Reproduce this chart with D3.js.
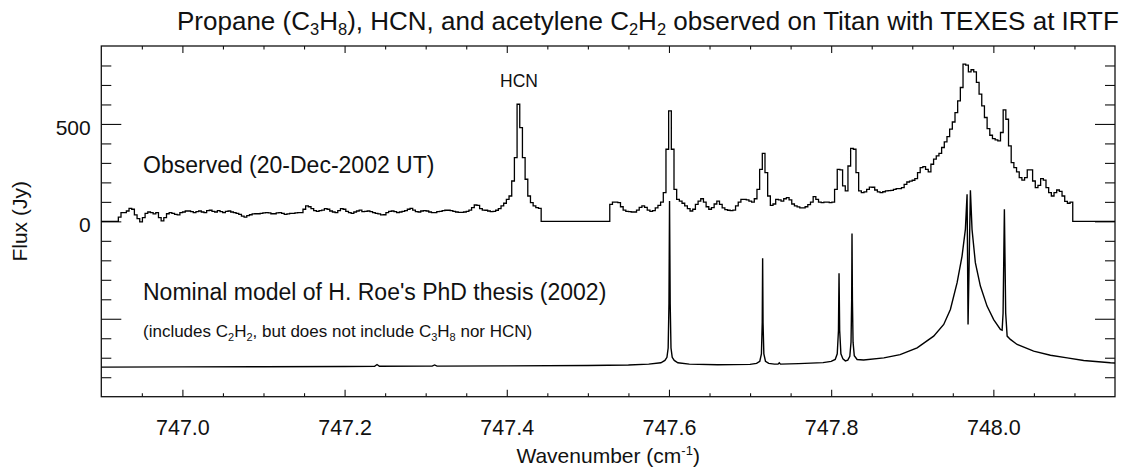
<!DOCTYPE html>
<html>
<head>
<meta charset="utf-8">
<title>Titan TEXES spectrum</title>
<script src="https://cdn.jsdelivr.net/npm/d3@7"></script>
<style>
  body { margin: 0; background: #fff; }
  svg text { font-family: "Liberation Sans", Arial, Helvetica, sans-serif; fill: #111; }
</style>
</head>
<body>
<svg id="chart" width="1138" height="476"></svg>
<script>
// observed spectrum: two binned segments (flux in Jy), zero outside
var obsStart1 = 746.921;
var obsStart2 = 747.527;
var obsStep = 0.0033;
var obsFlux1 = [22, 45, 45, 53, 67, 62, 33, 14, -3, 19, 41, 48, 45, 38, 45, 19, 2, 19, 39, 45,
  41, 36, 33, 45, 48, 53, 53, 50, 45, 50, 53, 48, 45, 55, 57, 51, 48, 55, 50, 45,
  51, 53, 48, 45, 41, 36, 27, 22, 29, 34, 38, 39, 39, 41, 43, 45, 43, 39, 39, 43,
  45, 41, 36, 38, 41, 41, 43, 45, 45, 62, 79, 75, 65, 55, 51, 55, 58, 65, 62, 53,
  48, 45, 55, 65, 62, 51, 45, 41, 48, 53, 58, 50, 51, 53, 50, 45, 41, 38, 33, 34,
  45, 51, 53, 50, 45, 48, 51, 55, 62, 67, 58, 50, 48, 53, 55, 53, 48, 45, 45, 50,
  51, 55, 57, 57, 55, 51, 48, 46, 46, 48, 51, 58, 70, 84, 82, 65, 58, 57, 53, 50,
  51, 57, 65, 79, 93, 113, 130, 207, 327, 601, 481, 327, 216, 130, 96, 79, 70, 67];
var obsFlux2 = [87, 99, 99, 96, 75, 58, 51, 50, 48, 48, 58, 72, 79, 72, 58, 51, 55, 69, 82, 99,
  147, 370, 567, 370, 164, 113, 104, 93, 79, 65, 53, 62, 87, 104, 116, 99, 75, 62, 70, 89,
  104, 87, 69, 60, 57, 55, 58, 79, 99, 113, 113, 110, 104, 99, 116, 164, 267, 349, 250, 130,
  82, 89, 113, 110, 104, 116, 122, 110, 89, 79, 74, 69, 69, 75, 86, 99, 127, 113, 99, 96,
  99, 99, 96, 99, 164, 267, 264, 182, 156, 284, 375, 370, 250, 156, 147, 151, 164, 176, 175, 161,
  151, 147, 152, 156, 158, 159, 164, 168, 168, 173, 190, 202, 206, 211, 219, 250, 276, 281, 267, 254,
  293, 319, 336, 349, 379, 408, 435, 473, 510, 558, 618, 687, 807, 802, 767, 778, 767, 713, 653, 593,
  533, 476, 442, 425, 418, 413, 456, 572, 524, 387, 301, 276, 254, 224, 212, 224, 264, 264, 207, 173,
  185, 219, 212, 173, 147, 130, 147, 161, 154, 130, 103, 93, 99];

// model spectrum (offset, plotted in the same flux units)
var modelWn = [746.900, 747.000, 747.100, 747.200, 747.237, 747.240, 747.243, 747.300, 747.308, 747.311,
  747.314, 747.400, 747.500, 747.550, 747.575, 747.590, 747.595, 747.5975, 747.599, 747.600,
  747.6007, 747.6015, 747.6025, 747.604, 747.6065, 747.611, 747.625, 747.660, 747.700, 747.708,
  747.712, 747.714, 747.715, 747.7155, 747.716, 747.717, 747.719, 747.723, 747.730, 747.7345,
  747.736, 747.7375, 747.760, 747.790, 747.800, 747.805, 747.8075, 747.809, 747.8097, 747.8105,
  747.812, 747.8145, 747.8175, 747.8205, 747.823, 747.8245, 747.8253, 747.8257, 747.8262, 747.827,
  747.8285, 747.832, 747.840, 747.865, 747.885, 747.906, 747.9264, 747.9388, 747.947, 747.9553,
  747.9614, 747.9655, 747.9676, 747.9688, 747.9717, 747.9737, 747.9778, 747.984, 747.9922, 748.0004,
  748.0087, 748.0108, 748.012, 748.0136, 748.0152, 748.017, 748.021, 748.0293, 748.0497, 748.0704,
  748.091, 748.1114, 748.1444, 748.150];
var modelFlux = [-748, -747, -746, -745, -744, -735, -744, -743, -743, -737,
  -743, -742, -740, -737, -733, -726, -714, -698, -650, -420,
  104, -420, -650, -698, -714, -726, -733, -736, -734, -729,
  -718, -680, -520, -190, -520, -680, -718, -729, -733, -733,
  -726, -733, -730, -725, -719, -709, -680, -560, -267, -560,
  -680, -706, -716, -712, -693, -620, -400, -63, -400, -620,
  -690, -709, -712, -701, -684, -649, -589, -529, -452, -315,
  -178, -41, 139, -529, 159, -41, -212, -332, -435, -504,
  -555, -559, -470, 62, -470, -589, -606, -632, -666, -687,
  -701, -714, -726, -727];

// axes
var xDomain = [746.9, 748.15];
var yDomain = [-900, 900];
var xMajor = [747.0, 747.2, 747.4, 747.6, 747.8, 748.0];
var xTickLabels = ["747.0", "747.2", "747.4", "747.6", "747.8", "748.0"];
var xMinor = [746.95, 747.05, 747.1, 747.15, 747.25, 747.3, 747.35, 747.45, 747.5, 747.55,
  747.65, 747.7, 747.75, 747.85, 747.9, 747.95, 748.05, 748.1];
var yMajor = [-500, 0, 500];
var yTickLabels = ["", "0", "500"];
var yMinor = [-800, -700, -600, -400, -300, -200, -100, 100, 200, 300, 400, 600, 700, 800];

var L = 101.3, R = 1115, T = 46, B = 396.7;
var svg = d3.select("#chart");
var x = d3.scaleLinear().domain(xDomain).range([L, R]);
var y = d3.scaleLinear().domain(yDomain).range([B, T]);

function styleAxis(g) {
  g.select(".domain").remove();
  g.selectAll(".tick line").attr("stroke", "#111").attr("stroke-width", 1.1);
}

// bottom + top
svg.append("g").attr("transform", "translate(0," + B + ")")
  .call(d3.axisBottom(x).tickValues(xMajor).tickSizeInner(-7).tickSizeOuter(0).tickPadding(23)
    .tickFormat(function(d, i) { return xTickLabels[i]; }))
  .call(styleAxis)
  .selectAll("text").attr("font-size", "21.5px");
svg.append("g").attr("transform", "translate(0," + B + ")")
  .call(d3.axisBottom(x).tickValues(xMinor).tickSizeInner(-3.5).tickSizeOuter(0).tickFormat(""))
  .call(styleAxis);
svg.append("g").attr("transform", "translate(0," + T + ")")
  .call(d3.axisTop(x).tickValues(xMajor).tickSizeInner(-7).tickSizeOuter(0).tickFormat(""))
  .call(styleAxis);
svg.append("g").attr("transform", "translate(0," + T + ")")
  .call(d3.axisTop(x).tickValues(xMinor).tickSizeInner(-3.5).tickSizeOuter(0).tickFormat(""))
  .call(styleAxis);

// left + right
svg.append("g").attr("transform", "translate(" + L + ",0)")
  .call(d3.axisLeft(y).tickValues(yMajor).tickSizeInner(-20).tickSizeOuter(0).tickPadding(10.6)
    .tickFormat(function(d, i) { return yTickLabels[i]; }))
  .call(styleAxis)
  .selectAll("text").attr("font-size", "21px").attr("dy", "0.5em");
svg.append("g").attr("transform", "translate(" + L + ",0)")
  .call(d3.axisLeft(y).tickValues(yMinor).tickSizeInner(-10).tickSizeOuter(0).tickFormat(""))
  .call(styleAxis);
svg.append("g").attr("transform", "translate(" + R + ",0)")
  .call(d3.axisRight(y).tickValues(yMajor).tickSizeInner(-20).tickSizeOuter(0).tickFormat(""))
  .call(styleAxis);
svg.append("g").attr("transform", "translate(" + R + ",0)")
  .call(d3.axisRight(y).tickValues(yMinor).tickSizeInner(-10).tickSizeOuter(0).tickFormat(""))
  .call(styleAxis);

// frame
svg.append("rect").attr("x", L).attr("y", T).attr("width", R - L).attr("height", B - T)
  .attr("fill", "none").attr("stroke", "#111").attr("stroke-width", 1.3);

// observed (step histogram)
var obsPts = [[xDomain[0], 0]];
obsFlux1.forEach(function(v, i) { obsPts.push([obsStart1 + i * obsStep, v]); });
obsPts.push([obsStart1 + obsFlux1.length * obsStep, 0]);
obsFlux2.forEach(function(v, i) { obsPts.push([obsStart2 + i * obsStep, v]); });
obsPts.push([obsStart2 + obsFlux2.length * obsStep, 0]);
obsPts.push([xDomain[1], 0]);

var stepLine = d3.line().x(function(d) { return x(d[0]); }).y(function(d) { return y(d[1]); })
  .curve(d3.curveStepAfter);
svg.append("path").datum(obsPts).attr("d", stepLine)
  .attr("fill", "none").attr("stroke", "#000").attr("stroke-width", 1.3);

// model
var modelPts = modelWn.map(function(w, i) { return [w, modelFlux[i]]; });
var line = d3.line().x(function(d) { return x(d[0]); }).y(function(d) { return y(d[1]); });
svg.append("path").datum(modelPts).attr("d", line)
  .attr("fill", "none").attr("stroke", "#000").attr("stroke-width", 1.4);

// text with chemical subscripts: parts are strings, or [subscript] arrays
function chemText(sel, parts, size, subSize, shift) {
  sel.attr("font-size", size + "px");
  var down = false;
  parts.forEach(function(p) {
    var ts = sel.append("tspan");
    if (Array.isArray(p)) {
      ts.attr("font-size", subSize + "px").attr("dy", down ? 0 : shift).text(p[0]);
      down = true;
    } else {
      ts.attr("dy", down ? -shift : 0).text(p);
      down = false;
    }
  });
}

chemText(svg.append("text").attr("x", 177).attr("y", 29.5),
  ["Propane (C", ["3"], "H", ["8"], "), HCN, and acetylene C", ["2"], "H", ["2"],
   " observed on Titan with TEXES at IRTF"], 26, 16.5, 5);

svg.append("text").attr("x", 519).attr("y", 87).attr("text-anchor", "middle")
  .attr("font-size", "17.5px").text("HCN");
svg.append("text").attr("x", 143).attr("y", 172.7).attr("font-size", "23px")
  .text("Observed (20-Dec-2002 UT)");
svg.append("text").attr("x", 143).attr("y", 300).attr("font-size", "23px")
  .text("Nominal model of H. Roe's PhD thesis (2002)");
chemText(svg.append("text").attr("x", 143).attr("y", 337),
  ["(includes C", ["2"], "H", ["2"], ", but does not include C", ["3"], "H", ["8"], " nor HCN)"],
  17, 11, 3.5);

var xl = svg.append("text").attr("x", (L + R) / 2).attr("y", 463).attr("text-anchor", "middle")
  .attr("font-size", "21px");
xl.append("tspan").text("Wavenumber (cm");
xl.append("tspan").attr("font-size", "13px").attr("dy", -8).text("-1");
xl.append("tspan").attr("dy", 8).text(")");

svg.append("text").attr("transform", "translate(27," + y(0) + ") rotate(-90)")
  .attr("text-anchor", "middle").attr("font-size", "21px").text("Flux (Jy)");
</script>
</body>
</html>
